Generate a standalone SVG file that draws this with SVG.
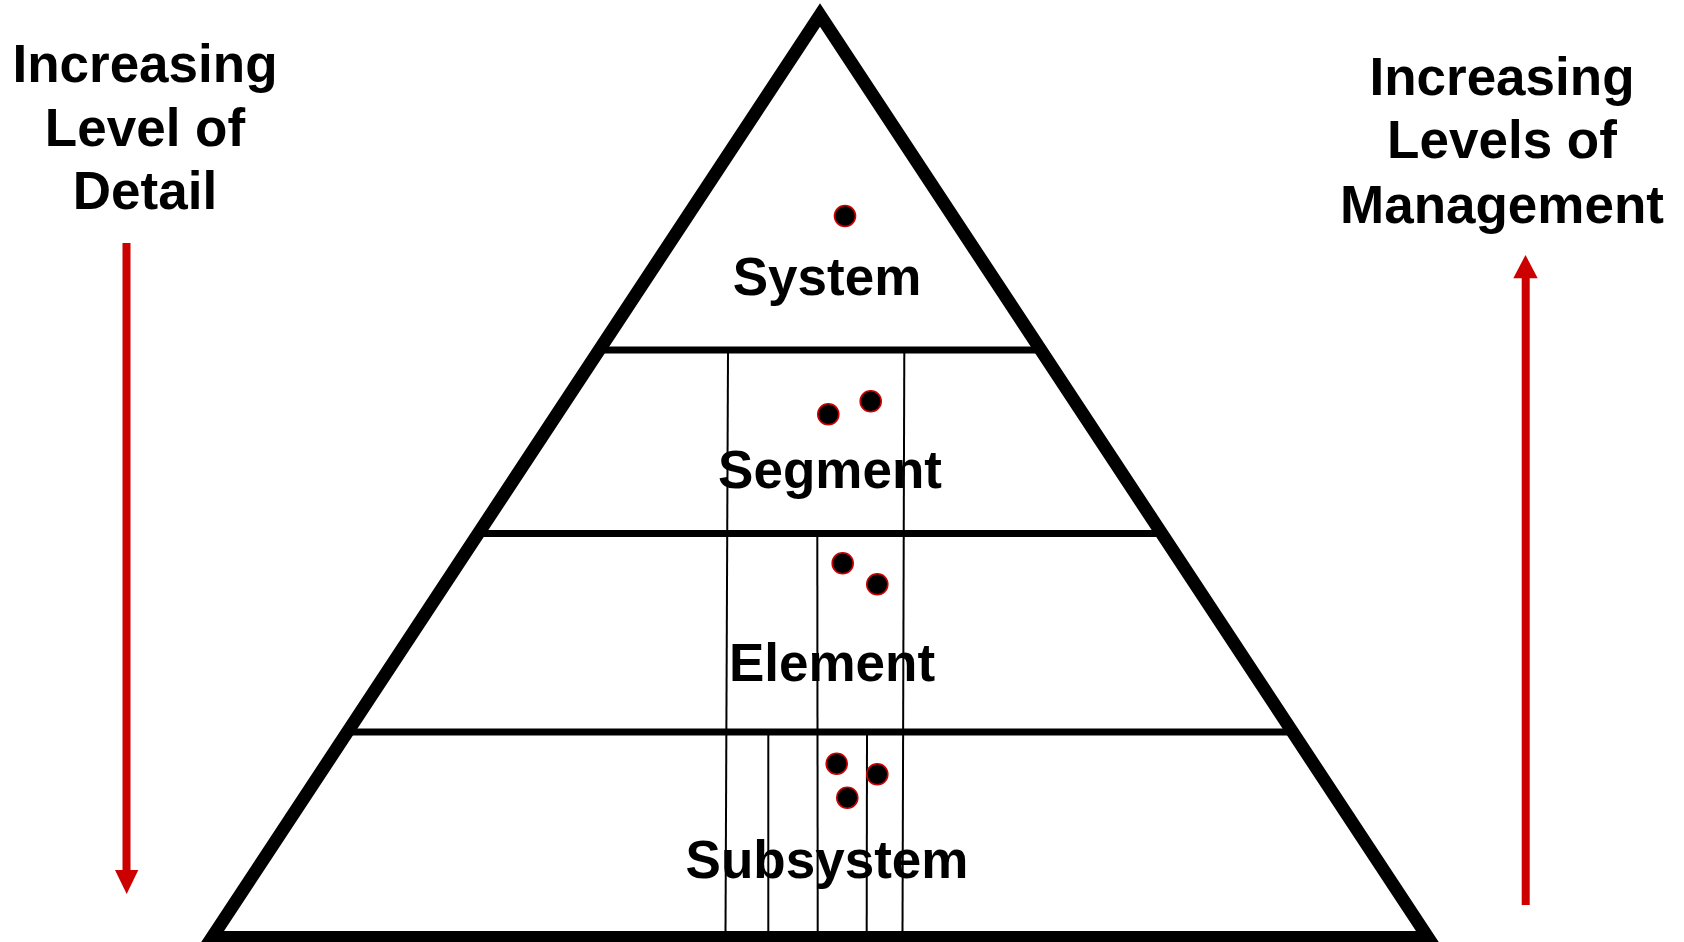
<svg xmlns="http://www.w3.org/2000/svg" width="1684" height="942" viewBox="0 0 1684 942">
<style>
.lbl{font-family:"Liberation Sans",Arial,sans-serif;font-weight:bold;font-size:53px;fill:#000;text-anchor:middle}
.band{stroke:#000;stroke-width:7;fill:none}
.thin{stroke:#000;stroke-width:2;fill:none}
.dot{fill:#000;stroke:#CC0000;stroke-width:1.6}
.shaft{stroke:#CC0000;stroke-width:8;fill:none}
.head{fill:#CC0000}
</style>
<rect width="1684" height="942" fill="#fff"/>
<g id="dividers">
<line class="band" x1="603" y1="350" x2="1037" y2="350"/>
<line class="band" x1="481" y1="533.5" x2="1159" y2="533.5"/>
<line class="band" x1="352" y1="732" x2="1289" y2="732"/>
<line class="thin" x1="728" y1="353" x2="725.5" y2="932"/>
<line class="thin" x1="904.3" y1="353" x2="902.5" y2="932"/>
<line class="thin" x1="817.3" y1="536" x2="817.7" y2="932"/>
<line class="thin" x1="768.3" y1="735" x2="768.3" y2="932"/>
<line class="thin" x1="867" y1="735" x2="866.7" y2="932"/>
</g>
<g id="pyramid">
<polygon points="820,15 212,937.5 1428,937.5" fill="none" stroke="#000" stroke-width="13" stroke-linejoin="miter" stroke-miterlimit="10"/>
</g>
<g id="system">
<circle class="dot" cx="845" cy="216" r="10.5"/>
<text class="lbl" x="827" y="295">System</text>
</g>
<g id="segment">
<circle class="dot" cx="828.3" cy="414.3" r="10.5"/>
<circle class="dot" cx="870.7" cy="401.3" r="10.5"/>
<text class="lbl" x="830" y="488">Segment</text>
</g>
<g id="element">
<circle class="dot" cx="842.7" cy="563.3" r="10.5"/>
<circle class="dot" cx="877.3" cy="584.3" r="10.5"/>
<text class="lbl" x="832" y="680.5">Element</text>
</g>
<g id="subsystem">
<circle class="dot" cx="836.7" cy="763.7" r="10.5"/>
<circle class="dot" cx="877.3" cy="774.3" r="10.5"/>
<circle class="dot" cx="847.3" cy="797.7" r="10.5"/>
<text class="lbl" x="827" y="878">Subsystem</text>
</g>
<g id="detail-label">
<text class="lbl" x="145" y="81.7">Increasing</text>
<text class="lbl" x="145" y="145.7">Level of</text>
<text class="lbl" x="145" y="209.3">Detail</text>
</g>
<g id="management-label">
<text class="lbl" x="1502" y="95">Increasing</text>
<text class="lbl" x="1502" y="158.3">Levels of</text>
<text class="lbl" x="1502" y="223.3">Management</text>
</g>
<g id="connectors">
<line class="shaft" x1="126.5" y1="243" x2="126.5" y2="872"/>
<polygon class="head" points="115,870 138.3,870 126.7,894"/>
<line class="shaft" x1="1525.7" y1="276" x2="1525.7" y2="905"/>
<polygon class="head" points="1513.3,278.3 1537.7,278.3 1525.5,255"/>
</g>
</svg>
